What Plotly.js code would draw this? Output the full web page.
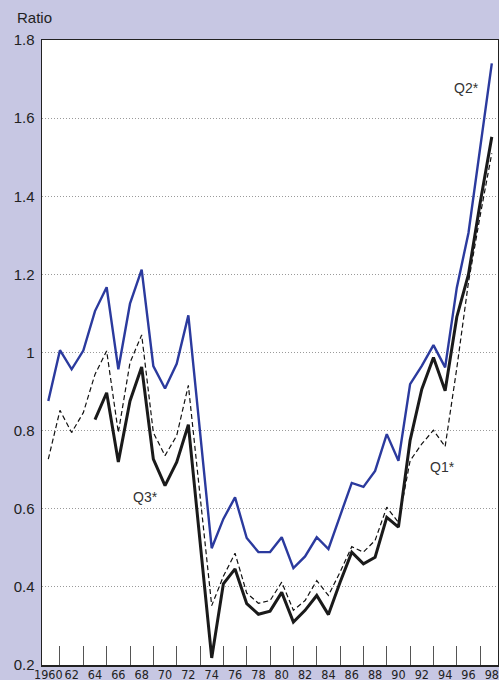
<!DOCTYPE html>
<html>
<head>
<meta charset="utf-8">
<script src="https://cdn.plot.ly/plotly-3.0.1.min.js"></script>
<style>
html,body{margin:0;padding:0;background:#c7c7e3;}
#chart{width:499px;height:680px;}
</style>
</head>
<body>
<div id="chart"></div>
<script>
const years = [1960,1961,1962,1963,1964,1965,1966,1967,1968,1969,1970,1971,1972,1973,1974,1975,1976,1977,1978,1979,1980,1981,1982,1983,1984,1985,1986,1987,1988,1989,1990,1991,1992,1993,1994,1995,1996,1997,1998];

const q2 = [0.876,1.006,0.957,1.005,1.106,1.167,0.957,1.125,1.212,0.965,0.908,0.971,1.095,0.80,0.499,0.574,0.629,0.525,0.489,0.489,0.527,0.448,0.478,0.527,0.497,0.582,0.666,0.656,0.697,0.791,0.723,0.919,0.966,1.019,0.962,1.166,1.306,1.523,1.740];

const q3 = [null,null,null,null,0.828,0.897,0.720,0.876,0.963,0.727,0.659,0.719,0.815,0.52,0.218,0.408,0.446,0.357,0.330,0.338,0.386,0.310,0.340,0.378,0.329,0.412,0.489,0.459,0.476,0.578,0.553,0.775,0.906,0.987,0.902,1.091,1.200,1.383,1.552];

const q1 = [0.727,0.852,0.795,0.846,0.944,1.004,0.795,0.974,1.045,0.795,0.736,0.787,0.916,0.63,0.352,0.427,0.486,0.384,0.358,0.365,0.412,0.340,0.365,0.416,0.378,0.438,0.503,0.489,0.519,0.604,0.565,0.723,0.766,0.801,0.759,0.96,1.18,1.35,1.51];

const xLabelYears = [1960,1962,1964,1966,1968,1970,1972,1974,1976,1978,1980,1982,1984,1986,1988,1990,1992,1994,1996,1998];
const xLabelText = ["1960","62","64","66","68","70","72","74","76","78","80","82","84","86","88","90","92","94","96","98"];
const xTickYears = [1961,1963,1965,1967,1969,1971,1973,1975,1977,1979,1981,1983,1985,1987,1989,1991,1993,1995,1997];
const yTickVals = [0.2,0.4,0.6,0.8,1.0,1.2,1.4,1.6,1.8];
const yTickText = ["0.2","0.4","0.6","0.8","1","1.2","1.4","1.6","1.8"];

const seriesLabels = [
  {text:"Q2*", x:1995.8, y:1.678},
  {text:"Q3*", x:1968.37, y:0.631},
  {text:"Q1*", x:1993.74, y:0.708}
];

const xRange = [1959.46,1998.53];

const traces = [
  {x:years, y:q1, type:'scatter', mode:'lines', line:{color:'#111', width:1.2, dash:'5px,3px'}, hoverinfo:'skip', connectgaps:false},
  {x:years, y:q3, type:'scatter', mode:'lines', line:{color:'#1a1a1a', width:3}, hoverinfo:'skip', connectgaps:false},
  {x:years, y:q2, type:'scatter', mode:'lines', line:{color:'#2b3a9e', width:2.4}, hoverinfo:'skip'}
];

const annotations = seriesLabels.map(s => ({
  x:s.x, y:s.y, xref:'x', yref:'y', text:s.text, showarrow:false,
  font:{family:'Liberation Sans, Arial, sans-serif', size:14, color:'#333'}
}));
annotations.push({
  xref:'paper', yref:'paper', x:-0.06, y:1.0, xanchor:'left', yanchor:'bottom', yshift:12,
  text:'Ratio', showarrow:false,
  font:{family:'Liberation Sans, Arial, sans-serif', size:15, color:'#222'}
});

const layout = {
  width:499, height:680,
  paper_bgcolor:'#c7c7e3', plot_bgcolor:'#ffffff',
  margin:{l:42, r:1, t:40, b:15, pad:0},
  showlegend:false,
  xaxis:{
    range:xRange, tickmode:'array', tickvals:xTickYears, showticklabels:false,
    ticks:'inside', ticklen:19, tickcolor:'#555', tickwidth:1,
    showgrid:false, zeroline:false,
    showline:true, linecolor:'#222', linewidth:1.5, mirror:true
  },
  xaxis2:{
    overlaying:'x', side:'bottom', anchor:'y', range:xRange,
    tickmode:'array', tickvals:xLabelYears, ticktext:xLabelText, tickangle:0,
    ticks:'', showgrid:false, zeroline:false, showline:false,
    ticklabelstandoff:0,
    tickfont:{family:'Liberation Sans Narrow, DejaVu Sans Condensed, Arial Narrow, sans-serif', size:12.5, color:'#222'}
  },
  yaxis:{
    range:[0.2,1.8], tickmode:'array', tickvals:yTickVals, ticktext:yTickText,
    ticks:'', showgrid:true, gridcolor:'#9a9a9a', griddash:'1px,2px', gridwidth:1,
    zeroline:false, showline:true, linecolor:'#222', linewidth:1.5, mirror:true,
    tickfont:{family:'Liberation Sans, Arial, sans-serif', size:15, color:'#222'},
    ticklabelstandoff:3
  },
  annotations:annotations
};

traces.push({x:[xRange[0]], y:[null], xaxis:'x2', yaxis:'y', type:'scatter', mode:'lines', hoverinfo:'skip', showlegend:false});

Plotly.newPlot('chart', traces, layout, {staticPlot:true, displayModeBar:false});
</script>
</body>
</html>
